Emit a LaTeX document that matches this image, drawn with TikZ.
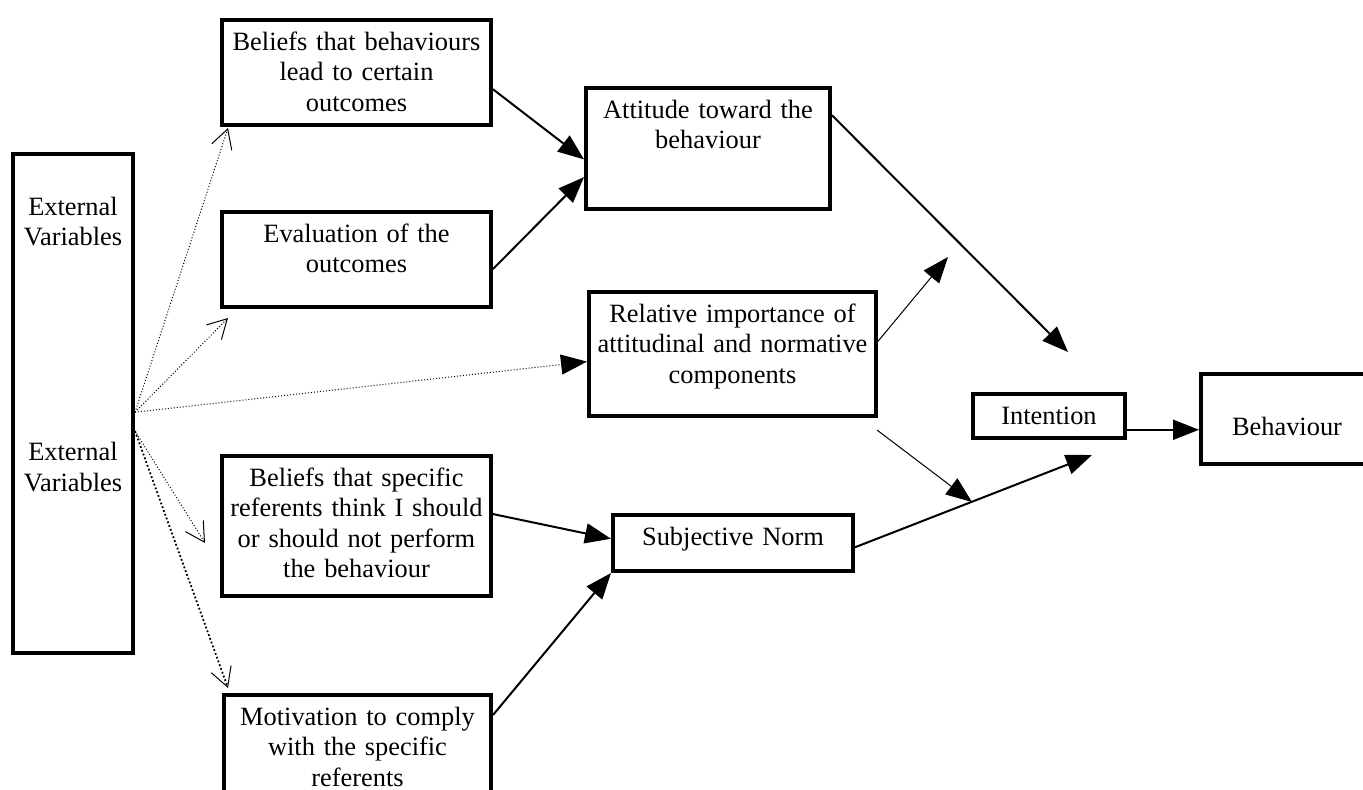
\documentclass[tikz,border=0pt]{standalone}
\usepackage{fontspec}
\setmainfont{Liberation Serif}
\usepackage{tikz}
\usetikzlibrary{arrows.meta}

\begin{document}
\begin{tikzpicture}[x=0.5pt, y=-0.5pt,
    box/.style={draw, line width=2pt, inner sep=0pt, anchor=north west,
        align=center, text height=15pt,
        font=\fontsize{13.2}{15.3}\selectfont},
    arr/.style={-{Triangle[length=13pt,width=10pt]}},
    open arr/.style={-{Straight Barb[length=9.5pt,width=10.5pt,line width=0.5pt]}},
    dots/.style={line width=0.5pt, dash pattern=on 0.5pt off 1pt},
    thick dots/.style={line width=0.9pt, dash pattern=on 0.9pt off 1.1pt}]
    \useasboundingbox (0,0) rectangle (1363,789);
    \node (EV) [box, text width=60pt, text height=30.5pt, text depth=219pt] at (11,152)
        {External\\Variables\\[92.2pt]External\\Variables};
    \node (BB) [box, text width=134.5pt, text depth=37.5pt] at (220,18)
        {Beliefs that behaviours\\lead to certain\\outcomes};
    \node (EO) [box, text width=134.5pt, text depth=32.5pt] at (220,210)
        {Evaluation of the\\outcomes};
    \node (AT) [box, text width=122pt, text depth=45.5pt] at (584,86)
        {Attitude toward the\\behaviour};
    \node (RI) [box, text width=143.5pt, text depth=47pt] at (587,290)
        {Relative importance of\\attitudinal and normative\\components};
    \node (BS) [box, text width=134.5pt, text depth=55pt] at (220,454)
        {Beliefs that specific\\referents think I should\\or should not perform\\the behaviour};
    \node (SN) [box, text width=120pt, text depth=13pt] at (611,513) {Subjective Norm};
    \node (MC) [box, text width=133.5pt, text depth=42.5pt] at (222,693)
        {Motivation to comply\\with the specific\\referents};
    \node (IN) [box, text width=76pt, text depth=7pt] at (971,392) {Intention};
    \node (BE) [box, text width=86pt, text height=30.5pt, text depth=14.5pt] at (1199,372)
        {Behaviour};

    % loose ends of the arrows
    \coordinate (t1) at (228,128);
    \coordinate (t2) at (228,318);
    \coordinate (t3) at (205,543);
    \coordinate (t4) at (228,688);
    \coordinate (a1) at (1068,352);
    \coordinate (a2) at (948,257);
    \coordinate (a3) at (877,430);
    \coordinate (a4) at (972,502);
    \coordinate (a5) at (1092,455);

    \draw[dots]
        (EV.-8.7) edge[open arr] (t1)
        (EV.-8.7) edge[open arr] (t2)
        (EV.-8.7) edge[arr] (RI.183)
        (EV.-24.7) edge[open arr] (t3);
    \draw[thick dots, open arr] (EV.-24.7) -- (t4);
    \draw[line width=1pt]
        (BB.-7) edge[arr] (AT.185)
        (EO.-4) edge[arr] (AT.193)
        (AT.15) edge[arr] (a1)
        (BS.5) edge[arr] (SN.178)
        ([yshift=-11pt]MC.north east) edge[arr] (SN.south west)
        (SN.-2) edge[arr] (a5)
        (IN.-10) edge[arr] (IN.-10 -| BE.west);
    \draw[line width=0.5pt]
        (RI.5) edge[arr] (a2)
        (a3) edge[arr] (a4);
\end{tikzpicture}
\end{document}
